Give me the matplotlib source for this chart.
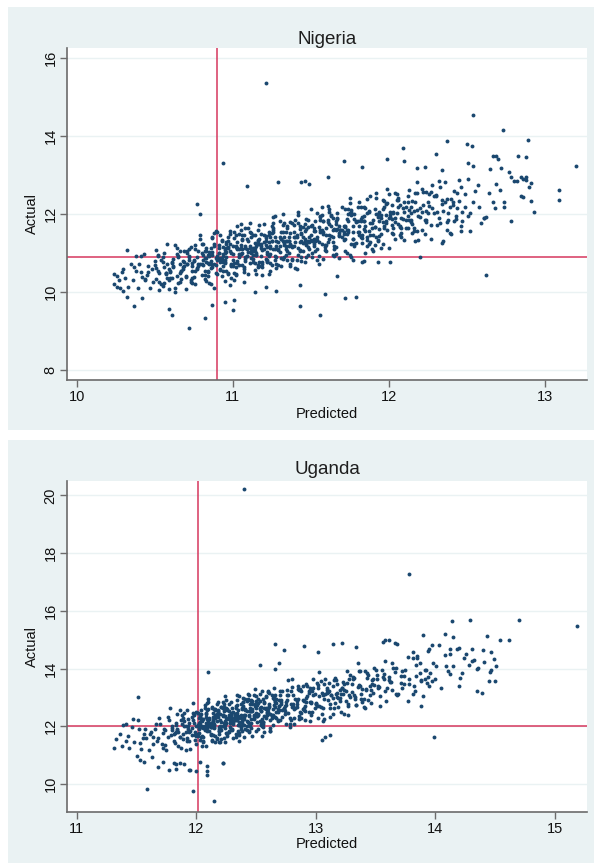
import matplotlib
matplotlib.use('Agg')  # noqa
import matplotlib.pyplot as plt
from matplotlib.patches import Rectangle

plt.rcParams['font.family'] = ['Liberation Sans', 'DejaVu Sans']

# ---- Nigeria: (predicted, actual) ----
ng_core = [
    (10.27, 10.31), (10.29, 10.52), (10.28, 10.09),
    (10.31, 10.35), (10.33, 10.14), (10.35, 10.73), (10.36, 10.30), (10.38, 10.54), (10.32, 9.87), (10.37, 10.63), (10.39, 10.10),
    (10.41, 10.51), (10.42, 10.39), (10.43, 10.97), (10.44, 10.31), (10.45, 10.44), (10.46, 10.67), (10.47, 10.11), (10.48, 10.60),
    (10.49, 10.26), (10.40, 10.72), (10.44, 10.34), (10.46, 10.51), (10.42, 9.84),
    (10.50, 10.68), (10.51, 10.34), (10.52, 10.96), (10.53, 10.50), (10.54, 10.82), (10.55, 10.16), (10.56, 10.63), (10.57, 10.45),
    (10.58, 11.24), (10.59, 10.32), (10.51, 10.61), (10.53, 10.04), (10.55, 10.89), (10.57, 10.48), (10.59, 10.60), (10.52, 10.93),
    (10.56, 10.23), (10.58, 10.71),
    (10.60, 10.52), (10.62, 10.63), (10.64, 10.41), (10.66, 11.06), (10.68, 10.59), (10.61, 10.77), (10.63, 10.11), (10.65, 10.92),
    (10.67, 10.33), (10.69, 10.77), (10.60, 10.55), (10.63, 11.20), (10.66, 10.50), (10.69, 10.66), (10.62, 10.84), (10.65, 10.24),
    (10.68, 10.80), (10.61, 10.35), (10.64, 10.97), (10.67, 10.54), (10.66, 10.71),
    (10.70, 10.07), (10.72, 10.90), (10.74, 10.55), (10.76, 11.20), (10.78, 10.73), (10.71, 10.99), (10.73, 10.31), (10.75, 10.80),
    (10.77, 10.62), (10.79, 11.46), (10.70, 10.41), (10.72, 10.82), (10.74, 10.22), (10.76, 11.10), (10.78, 10.67), (10.71, 10.71),
    (10.73, 11.15), (10.75, 10.38), (10.77, 10.89), (10.79, 10.71), (10.74, 10.75), (10.76, 10.53), (10.72, 11.10),
    (10.80, 10.71), (10.81, 10.94), (10.82, 10.34), (10.83, 11.06), (10.84, 10.52), (10.85, 10.92), (10.86, 10.80), (10.87, 11.38),
    (10.88, 10.72), (10.89, 10.86), (10.80, 10.99), (10.82, 10.44), (10.84, 10.94), (10.86, 10.61), (10.88, 11.17), (10.81, 10.68),
    (10.83, 10.86), (10.85, 10.24), (10.87, 11.03), (10.89, 10.70), (10.80, 11.22), (10.83, 10.78), (10.86, 11.12), (10.89, 10.48),
    (10.82, 10.87), (10.85, 10.71), (10.88, 11.52), (10.84, 10.55), (10.87, 10.95),
    (10.90, 10.81), (10.91, 11.01), (10.92, 10.56), (10.93, 11.31), (10.94, 10.92), (10.95, 10.83), (10.96, 11.27), (10.97, 10.45),
    (10.98, 11.05), (10.99, 10.69), (10.90, 11.53), (10.92, 10.77), (10.94, 10.98), (10.96, 10.54), (10.98, 11.23), (10.91, 10.85),
    (10.93, 11.34), (10.95, 10.75), (10.97, 11.12), (10.99, 10.37), (10.90, 10.92), (10.93, 10.79), (10.96, 11.24), (10.99, 10.73),
    (10.91, 11.00), (10.94, 10.55), (10.97, 11.15), (10.92, 10.88), (10.95, 10.78), (10.98, 11.48), (10.93, 10.86), (10.96, 11.02),
    (10.99, 10.66), (10.94, 11.16), (10.97, 10.48), (10.95, 11.07),
    (11.00, 10.98), (11.01, 11.38), (11.02, 11.15), (11.03, 11.27), (11.04, 11.10), (11.05, 11.59), (11.06, 11.01), (11.07, 10.63),
    (11.08, 10.79), (11.09, 10.93), (11.01, 10.32), (11.03, 10.80), (11.05, 10.98), (11.07, 10.60), (11.09, 10.92), (11.00, 10.66),
    (11.02, 10.44), (11.04, 10.90), (11.06, 11.47), (11.08, 11.18), (11.01, 10.75), (11.04, 10.92), (11.07, 10.52), (11.02, 10.65),
    (11.05, 10.97), (11.08, 10.89), (11.00, 11.19), (11.03, 11.12), (11.06, 11.36), (11.09, 11.11), (11.02, 11.18), (11.04, 11.49),
    (11.06, 11.33), (11.08, 11.12), (11.05, 11.74), (11.03, 11.10),
    (11.10, 10.47), (11.11, 11.19), (11.12, 11.06), (11.13, 10.84), (11.14, 11.45), (11.15, 10.95), (11.16, 11.33), (11.17, 10.77),
    (11.18, 11.23), (11.19, 11.07), (11.10, 11.65), (11.12, 10.86), (11.14, 11.25), (11.16, 10.63), (11.18, 11.14), (11.11, 10.75),
    (11.13, 11.47), (11.15, 11.01), (11.17, 11.23), (11.19, 10.43), (11.10, 11.31), (11.13, 10.95), (11.16, 11.60), (11.19, 10.76),
    (11.11, 11.13), (11.14, 11.06), (11.17, 10.67), (11.12, 11.40), (11.15, 10.94), (11.18, 11.17), (11.13, 11.04), (11.16, 11.30),
    (11.19, 10.73), (11.14, 11.14),
    (11.25, 10.68), (11.21, 11.43), (11.28, 10.89), (11.23, 11.27), (11.20, 11.10), (11.26, 11.78), (11.29, 11.08), (11.22, 11.15),
    (11.24, 11.41), (11.27, 10.81), (11.20, 11.27), (11.23, 10.92), (11.26, 11.54), (11.29, 11.11), (11.21, 11.21), (11.24, 10.53),
    (11.27, 11.41), (11.22, 10.97), (11.25, 11.68), (11.28, 11.19), (11.20, 11.45), (11.24, 10.75), (11.28, 11.30), (11.22, 11.03),
    (11.26, 11.93), (11.21, 10.85), (11.25, 11.30), (11.29, 10.69), (11.23, 11.55), (11.27, 11.11), (11.24, 11.19), (11.26, 11.65),
    (11.22, 10.80),
    (11.30, 11.19), (11.32, 10.84), (11.34, 11.09), (11.36, 11.01), (11.38, 11.19), (11.31, 10.66), (11.33, 11.25), (11.35, 11.64),
    (11.37, 11.52), (11.39, 11.42), (11.30, 11.83), (11.33, 11.42), (11.36, 11.30), (11.39, 11.71), (11.31, 11.35), (11.34, 11.53),
    (11.37, 11.79), (11.32, 11.32), (11.35, 10.83), (11.38, 11.15), (11.30, 11.42), (11.34, 11.32), (11.38, 11.77), (11.32, 11.54),
    (11.36, 11.31), (11.31, 11.37), (11.35, 11.04), (11.39, 11.17), (11.33, 10.91), (11.37, 11.23),
    (11.40, 11.29), (11.43, 11.08), (11.46, 11.74), (11.49, 11.28), (11.41, 11.45), (11.44, 10.80), (11.47, 11.62), (11.42, 10.96),
    (11.45, 11.42), (11.48, 11.31), (11.40, 11.85), (11.42, 11.14), (11.44, 11.30), (11.46, 11.56), (11.48, 10.95), (11.41, 11.41),
    (11.43, 11.05), (11.45, 11.66), (11.47, 11.22), (11.49, 11.42), (11.40, 10.62), (11.44, 11.51), (11.48, 11.16), (11.42, 11.78),
    (11.46, 11.30), (11.43, 11.61), (11.47, 10.91),
    (11.50, 11.34), (11.52, 11.57), (11.54, 11.09), (11.56, 11.92), (11.58, 11.50), (11.51, 11.32), (11.53, 11.82), (11.55, 10.92),
    (11.57, 11.59), (11.59, 11.20), (11.50, 12.14), (11.53, 11.31), (11.56, 11.55), (11.59, 11.07), (11.51, 11.73), (11.54, 11.42),
    (11.57, 11.97), (11.52, 11.24), (11.55, 11.66), (11.58, 10.84), (11.50, 11.47), (11.54, 11.33), (11.58, 11.83), (11.52, 11.18),
    (11.56, 11.60), (11.53, 11.04),
    (11.60, 11.20), (11.62, 11.37), (11.64, 10.94), (11.66, 11.15), (11.68, 11.47), (11.61, 11.28), (11.63, 11.70), (11.65, 11.62),
    (11.67, 11.86), (11.69, 11.58), (11.60, 11.64), (11.63, 11.97), (11.66, 11.81), (11.69, 11.60), (11.61, 12.20), (11.64, 11.59),
    (11.67, 11.89), (11.62, 11.46), (11.65, 11.10), (11.68, 11.44), (11.60, 11.45), (11.64, 11.90), (11.68, 11.68), (11.62, 11.74),
    (11.66, 11.60),
    (11.70, 11.58), (11.73, 11.86), (11.76, 11.24), (11.79, 11.82), (11.71, 11.34), (11.74, 11.99), (11.77, 11.53), (11.72, 11.67),
    (11.75, 10.96), (11.78, 11.88), (11.70, 11.40), (11.72, 12.12), (11.74, 11.60), (11.76, 11.97), (11.78, 11.22), (11.71, 11.68),
    (11.73, 11.48), (11.75, 12.40), (11.77, 11.35), (11.79, 11.80), (11.72, 11.05), (11.76, 12.04), (11.74, 11.53),
    (11.80, 11.83), (11.82, 12.17), (11.84, 11.62), (11.86, 11.18), (11.88, 11.45), (11.81, 11.55), (11.83, 11.26), (11.85, 11.70),
    (11.87, 11.56), (11.89, 11.09), (11.80, 11.55), (11.83, 11.45), (11.86, 11.33), (11.89, 11.76), (11.81, 12.30), (11.84, 11.83),
    (11.87, 12.04), (11.82, 11.87), (11.85, 12.16), (11.88, 11.78), (11.84, 11.96), (11.86, 11.40),
    (11.90, 11.06), (11.92, 12.01), (11.94, 11.61), (11.96, 12.36), (11.98, 11.82), (11.91, 12.12), (11.93, 11.33), (11.95, 11.91),
    (11.97, 11.70), (11.99, 12.65), (11.90, 11.45), (11.93, 11.92), (11.96, 11.24), (11.99, 12.27), (11.91, 11.67), (11.94, 11.82),
    (11.97, 12.33), (11.92, 11.40), (11.95, 11.98), (11.98, 11.78),
    (12.00, 11.89), (12.03, 11.65), (12.06, 12.37), (12.09, 11.87), (12.01, 12.05), (12.04, 11.35), (12.07, 12.23), (12.02, 11.52),
    (12.05, 12.02), (12.08, 11.89), (12.00, 12.50), (12.02, 11.71), (12.04, 11.89), (12.06, 12.17), (12.08, 11.51), (12.03, 12.04),
    (12.07, 11.66),
    (12.10, 12.32), (12.13, 11.85), (12.16, 12.07), (12.19, 11.33), (12.11, 12.18), (12.14, 11.79), (12.17, 12.55), (12.12, 11.94),
    (12.15, 12.34), (12.18, 11.56), (12.10, 12.04), (12.14, 11.85), (12.18, 12.82), (12.12, 11.65),
    (12.20, 12.16), (12.23, 11.48), (12.26, 12.51), (12.29, 12.02), (12.21, 12.06), (12.24, 12.57), (12.27, 11.72), (12.22, 12.22),
    (12.25, 12.02), (12.28, 12.15), (12.24, 11.84), (12.27, 12.56),
    (12.31, 12.05), (12.34, 12.37), (12.37, 11.60), (12.30, 12.46), (12.33, 11.77), (12.36, 12.31), (12.39, 12.17), (12.32, 12.84),
    (12.38, 12.03),
    (12.41, 12.22), (12.44, 12.54), (12.47, 11.82), (12.40, 12.38), (12.43, 11.95), (12.46, 12.69), (12.49, 12.17), (12.45, 12.34),
    (12.52, 11.57), (12.55, 12.60), (12.58, 12.17), (12.51, 12.90), (12.54, 12.31), (12.57, 12.75),
    (12.61, 11.91), (12.64, 12.53), (12.67, 12.32), (12.69, 12.78), (12.71, 12.61), (12.74, 12.32), (12.78, 12.96), (12.82, 12.84),
    (12.85, 12.47), (12.88, 12.95), (12.91, 12.80),
]
# denser part of the Nigeria cloud
ng_dense = [
    (10.51, 11.07), (10.53, 10.26), (10.55, 10.76), (10.57, 10.50), (10.59, 10.07), (10.50, 10.79), (10.52, 10.55), (10.54, 10.20),
    (10.56, 11.01), (10.58, 10.37),
    (10.61, 10.75), (10.63, 10.01), (10.65, 10.89), (10.67, 10.54), (10.69, 11.05), (10.60, 10.35), (10.62, 10.67), (10.64, 11.12),
    (10.66, 10.26), (10.68, 10.63),
    (10.71, 11.06), (10.73, 10.26), (10.75, 10.82), (10.77, 10.58), (10.79, 11.35), (10.70, 10.39), (10.72, 10.92), (10.74, 10.66),
    (10.76, 10.20), (10.78, 11.06), (10.71, 10.72), (10.74, 10.36),
    (10.81, 11.23), (10.83, 10.28), (10.85, 10.94), (10.87, 10.65), (10.89, 11.56), (10.80, 10.44), (10.82, 11.06), (10.84, 10.75),
    (10.86, 10.21), (10.88, 11.22), (10.81, 10.83), (10.84, 10.40), (10.87, 11.41), (10.82, 10.55), (10.85, 11.02), (10.88, 10.09),
    (10.83, 11.13), (10.86, 10.71),
    (10.91, 11.14), (10.93, 10.83), (10.95, 10.29), (10.97, 11.30), (10.99, 10.99), (10.90, 10.45), (10.92, 11.46), (10.94, 10.66),
    (10.96, 11.12), (10.98, 10.18), (10.91, 11.20), (10.94, 10.78), (10.97, 11.41), (10.92, 10.59), (10.95, 11.00), (10.98, 11.56),
    (10.93, 10.42), (10.96, 10.90),
    (11.01, 11.54), (11.03, 10.74), (11.05, 11.20), (11.07, 10.26), (11.09, 11.36), (11.00, 10.83), (11.02, 11.46), (11.04, 10.70),
    (11.06, 11.10), (11.08, 11.65), (11.01, 10.49), (11.04, 10.97), (11.07, 11.46), (11.02, 10.45), (11.05, 11.12), (11.08, 10.84),
    (11.03, 11.69), (11.06, 10.68),
    (11.11, 11.54), (11.13, 10.78), (11.15, 11.18), (11.17, 11.73), (11.19, 10.65), (11.10, 11.02), (11.12, 11.51), (11.14, 10.56),
    (11.16, 11.22), (11.18, 10.93), (11.11, 11.76), (11.14, 10.75), (11.17, 11.37), (11.12, 11.00), (11.15, 10.47), (11.18, 11.49),
    (11.13, 11.12), (11.16, 10.69),
    (11.21, 11.32), (11.23, 10.45), (11.25, 11.51), (11.27, 10.92), (11.29, 11.27), (11.20, 11.75), (11.22, 10.77), (11.24, 11.12),
    (11.26, 11.60), (11.28, 10.62), (11.21, 11.38), (11.24, 10.97), (11.27, 11.94), (11.22, 10.82), (11.25, 11.30), (11.28, 10.71),
    (11.23, 11.45), (11.26, 11.10),
    (11.31, 10.86), (11.33, 11.21), (11.35, 11.69), (11.37, 10.71), (11.39, 11.55), (11.30, 11.03), (11.32, 12.00), (11.34, 10.94),
    (11.36, 11.41), (11.38, 10.81), (11.31, 11.53), (11.34, 11.18), (11.37, 10.66), (11.32, 11.72), (11.35, 11.30), (11.38, 10.85),
    (11.33, 11.78), (11.36, 11.17),
    (11.41, 10.58), (11.43, 11.68), (11.45, 11.25), (11.47, 11.87), (11.49, 11.11), (11.40, 11.41), (11.42, 11.97), (11.44, 10.89),
    (11.46, 11.36), (11.48, 11.84), (11.41, 10.81), (11.44, 11.48), (11.47, 11.20), (11.42, 12.05), (11.45, 11.04), (11.48, 11.66),
    (11.43, 11.29), (11.46, 10.76),
    (11.51, 10.90), (11.53, 11.56), (11.55, 11.28), (11.57, 12.18), (11.59, 11.16), (11.50, 11.68), (11.52, 11.37), (11.54, 10.83),
    (11.56, 11.85), (11.58, 11.53), (11.51, 11.01), (11.54, 12.03), (11.57, 11.23), (11.52, 11.63), (11.55, 10.71), (11.58, 11.81),
    (11.53, 11.32), (11.56, 11.96),
    (11.61, 11.80), (11.63, 11.44), (11.65, 10.92), (11.67, 12.03), (11.69, 11.60), (11.60, 11.05), (11.62, 12.04), (11.64, 11.42),
    (11.66, 11.74), (11.68, 10.86), (11.61, 11.84), (11.64, 11.27), (11.67, 11.62), (11.62, 12.14), (11.65, 11.17), (11.68, 11.52),
    (11.63, 11.94), (11.66, 10.98),
    (11.71, 11.54), (11.73, 11.00), (11.75, 12.02), (11.77, 11.70), (11.79, 11.26), (11.70, 12.17), (11.72, 11.37), (11.74, 11.83),
    (11.76, 10.90), (11.78, 11.99), (11.71, 11.48), (11.74, 12.12), (11.77, 11.36), (11.72, 11.70), (11.75, 12.27), (11.78, 11.19),
    (11.73, 11.60), (11.76, 12.10),
    (11.81, 11.46), (11.83, 11.92), (11.85, 10.99), (11.87, 12.08), (11.89, 11.65), (11.80, 12.18), (11.82, 11.42), (11.84, 11.82),
    (11.86, 12.38), (11.88, 11.29), (11.81, 11.68), (11.84, 12.18), (11.87, 11.23), (11.82, 11.83), (11.85, 11.56), (11.88, 12.47),
    (11.83, 11.39), (11.86, 12.02),
    (11.91, 11.67), (11.93, 11.99), (11.95, 11.12), (11.97, 12.17), (11.99, 11.59), (11.90, 11.84), (11.92, 12.42), (11.94, 11.44),
    (11.96, 11.79), (11.98, 12.26), (11.91, 11.21), (11.94, 12.06), (11.97, 11.64), (11.92, 12.55), (11.95, 11.50), (11.98, 11.97),
    (11.93, 11.32), (11.96, 12.13),
    (12.01, 11.93), (12.03, 11.49), (12.05, 12.50), (12.07, 11.69), (12.09, 12.15), (12.00, 11.12), (12.02, 12.22), (12.04, 11.79),
    (12.06, 12.42), (12.08, 11.65), (12.01, 11.97), (12.04, 12.54), (12.07, 11.46), (12.02, 11.87), (12.05, 12.37), (12.08, 11.42),
    (12.03, 12.02), (12.06, 11.75),
    (12.11, 11.64), (12.13, 12.11), (12.15, 11.52), (12.17, 12.31), (12.19, 11.95), (12.10, 11.33), (12.12, 12.45), (12.14, 12.02),
    (12.16, 11.57), (12.18, 12.55), (12.11, 11.85), (12.14, 12.18), (12.17, 11.31), (12.12, 12.31), (12.15, 11.74), (12.18, 12.09),
    (12.13, 12.61), (12.16, 11.64),
    (12.21, 12.64), (12.23, 11.84), (12.25, 12.30), (12.27, 11.36), (12.29, 12.46), (12.20, 11.93), (12.22, 12.56), (12.24, 11.80),
    (12.26, 12.20), (12.28, 12.75), (12.21, 11.59), (12.24, 12.07),
    (12.31, 11.71), (12.33, 12.70), (12.35, 12.08), (12.37, 12.39), (12.39, 11.52), (12.30, 12.48), (12.32, 11.90), (12.34, 12.25),
    (12.36, 12.83), (12.38, 11.84),
    (12.41, 12.30), (12.43, 11.86), (12.45, 12.87), (12.47, 12.06), (12.49, 12.52), (12.40, 11.49), (12.42, 12.59), (12.44, 12.16),
]
ng_outliers = [
    (11.21, 15.37), (12.54, 14.55), (12.73, 14.16), (12.89, 13.89), (12.37, 13.87), (12.50, 13.80), (12.53, 13.74), (12.09, 13.70),
    (10.94, 13.32), (13.20, 13.22), (11.71, 13.36), (12.30, 13.55), (11.99, 13.41), (13.09, 12.62), (13.09, 12.35), (12.93, 12.05),
    (12.78, 11.82), (12.62, 10.44), (12.20, 10.90), (11.83, 10.77), (11.93, 10.76), (12.01, 10.76), (11.67, 10.41), (11.59, 9.95),
    (11.72, 9.85), (11.79, 9.87), (11.43, 9.65), (11.56, 9.41), (10.72, 9.08), (10.82, 9.33), (10.61, 9.42), (10.37, 9.65),
    (11.00, 9.54), (10.95, 9.75), (11.01, 9.79), (11.29, 12.82), (11.09, 12.72), (10.77, 12.25), (12.62, 11.93), (10.24, 10.46),
    (10.24, 10.20), (10.26, 10.13), (10.30, 10.03), (10.32, 11.08),
    (11.83, 13.20), (12.10, 13.36), (12.18, 13.17), (12.23, 13.20), (12.34, 13.13), (12.51, 13.30), (12.54, 13.23), (12.67, 13.49),
    (12.69, 13.49), (12.70, 13.40), (12.83, 13.49), (12.88, 13.46), (12.65, 13.15), (12.72, 13.19), (12.77, 13.07), (12.80, 12.84),
    (12.85, 12.94), (12.86, 12.91), (12.88, 12.86), (12.90, 12.70), (12.86, 12.43), (12.91, 12.33), (12.59, 11.76), (12.61, 11.89),
    (12.74, 12.19), (12.68, 12.16), (12.46, 11.57), (12.46, 11.69), (12.34, 11.25), (12.35, 11.30), (11.84, 10.80), (11.77, 10.82),
    (12.42, 11.83), (12.37, 11.80), (12.51, 11.95), (12.52, 12.02),
    (11.44, 12.81), (11.46, 12.85), (11.49, 12.76), (11.61, 12.96), (10.79, 12.00), (10.26, 10.41), (10.30, 10.59), (10.59, 9.56),
    (10.87, 9.67), (11.43, 10.17), (11.21, 10.14), (11.14, 10.01), (11.28, 10.03), (10.41, 10.92), (10.38, 10.92),
]
ng_xline = 10.9
ng_yline = 10.9
ng_xticks = [10, 11, 12, 13]
ng_yticks = [8, 10, 12, 14, 16]

# ---- Uganda: (predicted, actual) ----
ug_core = [
    (11.36, 11.74), (11.38, 11.30),
    (11.41, 11.50), (11.44, 11.24), (11.46, 11.98), (11.48, 11.44), (11.43, 11.68),
    (11.50, 10.98), (11.52, 11.89), (11.54, 11.22), (11.56, 11.73), (11.58, 11.58), (11.51, 12.23), (11.53, 11.41), (11.55, 11.59),
    (11.57, 11.89),
    (11.60, 11.19), (11.62, 11.81), (11.64, 11.39), (11.66, 12.09), (11.68, 11.58), (11.61, 11.72), (11.63, 10.93), (11.65, 11.92),
    (11.67, 11.50), (11.69, 12.28), (11.64, 11.64),
    (11.70, 12.08), (11.72, 11.26), (11.74, 11.86), (11.76, 11.64), (11.78, 12.64), (11.71, 11.40), (11.73, 11.89), (11.75, 11.17),
    (11.77, 12.23), (11.79, 11.71), (11.72, 11.77), (11.76, 12.31), (11.74, 11.36),
    (11.80, 12.00), (11.82, 11.78), (11.84, 11.90), (11.86, 11.64), (11.88, 12.38), (11.81, 11.75), (11.83, 12.05), (11.85, 11.31),
    (11.87, 12.22), (11.89, 11.55), (11.80, 11.95), (11.83, 11.81), (11.86, 12.56), (11.89, 11.75), (11.84, 11.86),
    (11.90, 12.19), (11.92, 11.49), (11.94, 12.11), (11.96, 11.69), (11.98, 12.39), (11.91, 11.79), (11.93, 12.02), (11.95, 11.23),
    (11.97, 12.22), (11.99, 11.80), (11.90, 12.47), (11.93, 11.91), (11.96, 12.33), (11.99, 11.52), (11.91, 12.02), (11.94, 11.81),
    (11.97, 12.82), (11.92, 11.60), (11.98, 12.13),
    (12.00, 11.40), (12.01, 12.45), (12.02, 11.92), (12.03, 12.06), (12.04, 12.57), (12.05, 11.65), (12.06, 12.24), (12.07, 12.01),
    (12.08, 12.12), (12.09, 11.85), (12.00, 12.48), (12.02, 11.94), (12.04, 12.24), (12.06, 11.50), (12.08, 12.41), (12.01, 11.65),
    (12.03, 12.16), (12.05, 12.01), (12.07, 12.75), (12.09, 11.93), (12.00, 12.00), (12.03, 12.31), (12.06, 11.62), (12.09, 12.25),
    (12.01, 11.73), (12.04, 12.44), (12.07, 11.94), (12.02, 12.10), (12.05, 11.32), (12.08, 12.32),
    (12.10, 12.03), (12.11, 12.28), (12.12, 11.71), (12.13, 12.65), (12.14, 12.16), (12.15, 12.04), (12.16, 12.59), (12.17, 11.56),
    (12.18, 12.31), (12.19, 11.85), (12.10, 12.93), (12.12, 11.97), (12.14, 12.23), (12.16, 11.67), (12.18, 12.53), (12.11, 12.07),
    (12.13, 12.68), (12.15, 11.94), (12.17, 12.40), (12.19, 11.45), (12.10, 12.17), (12.13, 11.99), (12.16, 12.55), (12.19, 11.90),
    (12.11, 12.26), (12.14, 11.69), (12.17, 12.44), (12.12, 12.11), (12.15, 11.98), (12.18, 12.85), (12.13, 12.08), (12.16, 12.28),
    (12.19, 11.82), (12.14, 12.46), (12.17, 11.60),
    (12.20, 12.22), (12.21, 12.67), (12.22, 12.40), (12.23, 12.54), (12.24, 12.35), (12.25, 12.91), (12.26, 12.24), (12.27, 11.81),
    (12.28, 11.98), (12.29, 12.14), (12.20, 11.45), (12.22, 12.00), (12.24, 12.19), (12.26, 11.76), (12.28, 12.12), (12.21, 11.86),
    (12.23, 11.61), (12.25, 12.13), (12.27, 12.78), (12.29, 12.45), (12.20, 11.94), (12.23, 12.13), (12.26, 11.68), (12.29, 11.91),
    (12.21, 12.15), (12.24, 12.06), (12.27, 12.53), (12.22, 12.36), (12.25, 12.63), (12.28, 12.34), (12.20, 12.42), (12.23, 12.77),
    (12.26, 12.60), (12.29, 12.37), (12.24, 13.06), (12.27, 12.39), (12.22, 12.64),
    (12.30, 12.63), (12.31, 12.15), (12.32, 12.33), (12.33, 11.62), (12.34, 12.47), (12.35, 12.32), (12.36, 12.05), (12.37, 12.78),
    (12.38, 12.19), (12.39, 12.64), (12.30, 11.87), (12.32, 12.42), (12.34, 12.23), (12.36, 13.06), (12.38, 12.11), (12.31, 12.48),
    (12.33, 11.74), (12.35, 12.35), (12.37, 11.98), (12.39, 12.84), (12.30, 12.17), (12.33, 12.44), (12.36, 11.49), (12.39, 12.69),
    (12.31, 12.14), (12.34, 12.91), (12.37, 11.90), (12.32, 12.39), (12.35, 12.29), (12.38, 11.82), (12.33, 12.70), (12.36, 12.15),
    (12.34, 12.37), (12.37, 12.30), (12.35, 12.56),
    (12.40, 11.63), (12.41, 12.61), (12.42, 12.18), (12.43, 12.95), (12.44, 12.37), (12.45, 12.77), (12.46, 11.94), (12.47, 12.53),
    (12.48, 12.30), (12.49, 13.29), (12.40, 12.03), (12.42, 12.52), (12.44, 11.80), (12.46, 12.86), (12.48, 12.34), (12.41, 12.40),
    (12.43, 12.92), (12.45, 12.01), (12.47, 12.61), (12.49, 12.39), (12.40, 12.40), (12.43, 12.15), (12.46, 12.90), (12.49, 12.37),
    (12.41, 12.57), (12.44, 11.84), (12.47, 12.76), (12.42, 12.02), (12.45, 12.54), (12.48, 12.40), (12.44, 13.08), (12.46, 12.26),
    (12.50, 12.45), (12.53, 12.20), (12.56, 12.95), (12.59, 12.38), (12.51, 12.74), (12.54, 12.09), (12.57, 12.65), (12.52, 12.39),
    (12.55, 13.23), (12.58, 12.29), (12.50, 12.65), (12.52, 11.91), (12.54, 12.52), (12.56, 12.15), (12.58, 13.01), (12.51, 12.36),
    (12.53, 12.62), (12.55, 11.66), (12.57, 12.85), (12.59, 12.40), (12.50, 13.05), (12.54, 12.05), (12.58, 12.63), (12.52, 12.44),
    (12.56, 11.98), (12.53, 12.88), (12.57, 12.34),
    (12.60, 12.59), (12.63, 12.34), (12.66, 13.09), (12.69, 12.56), (12.61, 12.76), (12.64, 12.03), (12.67, 12.95), (12.62, 12.21),
    (12.65, 12.73), (12.68, 12.59), (12.60, 13.23), (12.62, 12.41), (12.64, 12.59), (12.66, 12.89), (12.68, 12.19), (12.61, 12.72),
    (12.63, 12.30), (12.65, 13.00), (12.67, 12.49), (12.69, 12.72), (12.62, 11.84), (12.66, 12.85), (12.64, 12.39),
    (12.70, 13.23), (12.73, 12.64), (12.76, 13.08), (12.79, 12.23), (12.71, 12.76), (12.74, 12.53), (12.77, 13.59), (12.72, 12.31),
    (12.75, 12.84), (12.78, 12.09), (12.70, 13.10), (12.72, 12.55), (12.74, 12.71), (12.76, 13.26), (12.78, 12.30), (12.71, 12.84),
    (12.73, 12.61), (12.75, 12.73), (12.77, 12.46), (12.79, 13.23),
    (12.80, 12.66), (12.83, 12.96), (12.86, 12.35), (12.89, 13.40), (12.81, 12.77), (12.84, 12.66), (12.87, 13.28), (12.82, 12.09),
    (12.85, 12.93), (12.88, 12.45), (12.80, 13.65), (12.82, 12.60), (12.84, 12.88), (12.86, 12.26), (12.88, 13.21), (12.81, 12.71),
    (12.85, 13.40), (12.89, 12.60),
    (12.90, 12.56), (12.93, 13.38), (12.96, 12.79), (12.99, 13.13), (12.91, 12.21), (12.94, 13.22), (12.97, 12.49), (12.92, 12.98),
    (12.95, 12.83), (12.98, 13.65), (12.90, 12.64), (12.92, 12.84), (12.94, 13.17), (12.96, 12.40), (12.98, 13.08), (12.91, 12.52),
    (12.95, 13.31),
    (13.00, 12.78), (13.03, 13.04), (13.06, 12.18), (13.09, 13.27), (13.01, 12.71), (13.04, 13.58), (13.07, 12.96), (13.02, 13.34),
    (13.05, 12.44), (13.08, 13.11), (13.00, 12.77), (13.03, 13.87), (13.06, 12.62), (13.09, 13.16), (13.02, 12.28), (13.07, 13.47),
    (13.10, 12.91), (13.13, 13.08), (13.16, 13.66), (13.19, 12.67), (13.11, 13.23), (13.14, 12.99), (13.17, 13.13), (13.12, 12.78),
    (13.15, 13.60), (13.18, 13.01), (13.10, 13.24), (13.14, 12.44), (13.18, 13.46), (13.12, 12.64),
    (13.20, 13.26), (13.23, 13.11), (13.26, 13.93), (13.29, 13.03), (13.21, 13.13), (13.24, 13.47), (13.27, 12.71), (13.22, 13.32),
    (13.25, 12.86), (13.28, 13.64), (13.20, 12.98), (13.24, 13.25), (13.27, 12.39),
    (13.30, 13.48), (13.33, 13.03), (13.36, 13.90), (13.39, 13.28), (13.31, 13.63), (13.34, 12.73), (13.37, 13.40), (13.32, 13.09),
    (13.35, 14.19), (13.38, 12.94), (13.36, 13.43),
    (13.40, 12.66), (13.43, 13.83), (13.46, 13.27), (13.49, 13.44), (13.41, 13.91), (13.44, 12.92), (13.47, 13.59), (13.42, 13.27),
    (13.45, 13.41), (13.48, 13.14),
    (13.50, 13.95), (13.53, 13.36), (13.56, 13.70), (13.59, 12.89), (13.51, 13.79), (13.54, 13.06), (13.57, 13.63), (13.52, 13.40),
    (13.58, 14.25),
    (13.60, 13.34), (13.63, 13.55), (13.66, 13.89), (13.69, 13.13), (13.61, 13.71), (13.64, 13.25), (13.67, 14.03),
    (13.71, 13.49), (13.74, 13.75), (13.77, 12.89), (13.72, 13.90), (13.78, 13.48),
    (13.81, 14.35), (13.84, 13.73), (13.87, 14.19), (13.83, 13.22),
    (13.91, 13.94), (13.94, 13.71), (13.97, 14.81), (13.93, 13.49),
    (14.01, 14.08), (14.05, 13.31), (14.08, 14.48), (14.11, 13.92), (14.15, 14.10), (14.18, 14.68),
    (14.21, 13.69), (14.24, 14.36), (14.28, 14.13), (14.32, 14.28), (14.36, 14.02), (14.41, 14.23), (14.47, 14.59),
]
# denser part of the Uganda cloud
ug_dense = [
    (11.81, 11.50), (11.83, 12.12), (11.85, 11.81), (11.87, 11.26), (11.89, 12.28), (11.80, 11.87), (11.82, 11.43), (11.84, 12.44),
    (11.86, 11.64), (11.88, 12.09),
    (11.91, 11.17), (11.93, 12.27), (11.95, 11.84), (11.97, 12.46), (11.99, 11.70), (11.90, 12.00), (11.92, 12.56), (11.94, 11.48),
    (11.96, 11.95), (11.98, 12.43),
    (12.01, 12.46), (12.03, 11.51), (12.05, 12.17), (12.07, 11.88), (12.09, 12.79), (12.00, 11.67), (12.02, 12.29), (12.04, 11.98),
    (12.06, 11.44), (12.08, 12.45), (12.01, 12.06), (12.04, 11.63), (12.07, 12.64), (12.02, 11.78), (12.05, 12.25), (12.08, 11.32),
    (12.03, 12.36), (12.06, 11.94), (12.09, 12.57), (12.00, 11.71),
    (12.11, 12.01), (12.13, 11.49), (12.15, 12.61), (12.17, 12.17), (12.19, 11.72), (12.10, 12.61), (12.12, 11.99), (12.14, 12.31),
    (12.16, 11.44), (12.18, 12.49), (12.11, 11.83), (12.14, 12.19), (12.17, 12.77), (12.12, 11.73), (12.15, 12.09), (12.18, 12.57),
    (12.13, 11.54), (12.16, 12.39), (12.19, 11.97), (12.10, 12.84),
    (12.21, 11.57), (12.23, 12.59), (12.25, 12.28), (12.27, 11.83), (12.29, 12.84), (12.20, 11.94), (12.22, 12.40), (12.24, 11.47),
    (12.26, 12.57), (12.28, 12.13), (12.21, 12.68), (12.24, 11.93), (12.27, 12.33), (12.22, 12.83), (12.25, 11.76), (12.28, 12.23),
    (12.23, 12.66), (12.26, 11.72), (12.29, 12.38), (12.20, 12.00),
    (12.31, 11.58), (12.33, 12.64), (12.35, 12.06), (12.37, 12.40), (12.39, 12.98), (12.30, 11.90), (12.32, 12.25), (12.34, 12.73),
    (12.36, 11.76), (12.38, 12.59), (12.31, 12.09), (12.34, 13.07), (12.37, 12.01), (12.32, 12.42), (12.35, 11.84), (12.38, 12.64),
    (12.33, 12.22), (12.36, 11.71), (12.39, 12.83), (12.30, 12.30),
    (12.41, 12.96), (12.43, 12.16), (12.45, 12.62), (12.47, 11.68), (12.49, 12.78), (12.40, 12.25), (12.42, 12.88), (12.44, 12.12),
    (12.46, 12.52), (12.48, 13.07), (12.41, 11.91), (12.44, 12.39), (12.47, 12.88), (12.42, 11.87), (12.45, 12.54), (12.48, 12.26),
    (12.43, 13.11), (12.46, 12.10), (12.49, 12.72), (12.40, 12.31),
    (12.51, 12.14), (12.53, 12.61), (12.55, 12.02), (12.57, 12.81), (12.59, 12.45), (12.50, 11.83), (12.52, 12.95), (12.54, 12.52),
    (12.56, 12.07), (12.58, 13.05), (12.51, 12.35), (12.54, 12.68), (12.57, 11.81), (12.52, 12.81), (12.55, 12.24), (12.58, 12.59),
    (12.53, 13.11), (12.56, 12.14), (12.59, 12.49), (12.50, 12.87),
    (12.61, 12.68), (12.63, 12.40), (12.65, 13.31), (12.67, 12.28), (12.69, 12.90), (12.60, 12.49), (12.62, 11.95), (12.64, 12.97),
    (12.66, 12.66), (12.68, 12.21), (12.61, 13.14), (12.64, 12.35), (12.67, 12.81), (12.62, 11.82), (12.65, 12.93), (12.68, 12.50),
    (12.63, 13.07), (12.66, 12.32), (12.69, 12.72), (12.60, 13.18),
    (12.71, 12.92), (12.73, 12.61), (12.75, 12.07), (12.77, 13.08), (12.79, 12.77), (12.70, 12.23), (12.72, 13.24), (12.74, 12.44),
    (12.76, 12.90), (12.78, 11.96),
    (12.81, 13.08), (12.83, 12.65), (12.85, 13.28), (12.87, 12.51), (12.89, 12.91), (12.80, 13.37), (12.82, 12.29), (12.84, 12.76),
    (12.86, 13.25), (12.88, 12.29),
    (12.91, 12.72), (12.93, 13.04), (12.95, 12.17), (12.97, 13.22), (12.99, 12.64), (12.90, 12.89), (12.92, 13.47), (12.94, 12.49),
    (12.96, 12.84), (12.98, 13.31),
    (13.01, 13.51), (13.03, 12.71), (13.05, 13.17), (13.07, 12.24), (13.09, 13.34), (13.00, 12.80), (13.02, 13.43), (13.04, 12.67),
    (13.06, 13.07), (13.08, 13.63),
    (13.11, 13.50), (13.13, 13.07), (13.15, 12.62), (13.17, 13.61), (13.19, 12.99), (13.10, 13.20), (13.12, 12.33), (13.14, 13.39),
    (13.16, 12.81), (13.18, 13.16),
    (13.21, 12.51), (13.23, 13.53), (13.25, 13.22), (13.27, 12.78), (13.29, 13.79), (13.20, 12.88), (13.22, 13.34), (13.24, 12.41),
    (13.26, 13.51), (13.28, 13.08),
    (13.31, 13.72), (13.33, 12.96), (13.35, 13.36), (13.37, 13.92), (13.39, 12.84), (13.30, 13.20), (13.32, 13.69), (13.34, 12.74),
    (13.36, 13.40), (13.38, 13.12),
    (13.41, 12.62), (13.43, 13.68), (13.45, 13.10), (13.47, 13.45), (13.49, 14.03), (13.40, 12.94), (13.42, 13.29), (13.44, 13.77),
    (13.46, 12.80), (13.48, 13.64),
    (13.51, 13.63), (13.54, 12.71), (13.57, 13.82), (13.52, 13.32), (13.55, 13.96), (13.58, 13.21),
    (13.61, 13.62), (13.64, 14.19), (13.67, 13.12), (13.62, 13.52), (13.65, 14.02), (13.68, 13.08),
    (13.71, 13.75), (13.74, 13.48), (13.77, 14.40), (13.72, 13.31), (13.75, 13.94), (13.78, 13.64),
    (13.81, 13.11), (13.84, 14.14), (13.87, 13.84), (13.82, 13.41), (13.85, 14.35), (13.88, 13.56),
    (13.91, 13.63), (13.94, 14.61), (13.97, 13.56), (13.92, 13.96), (13.95, 13.38), (13.98, 14.19),
]
ug_outliers = [
    (12.40, 20.22), (13.78, 17.29), (15.19, 15.49), (14.70, 15.68), (14.54, 15.00), (14.29, 15.68), (14.14, 15.66), (14.43, 15.14),
    (14.08, 15.20), (13.90, 15.16), (13.99, 11.62), (13.14, 14.86), (12.90, 14.77), (12.66, 14.86), (12.73, 14.63), (12.53, 14.11),
    (12.10, 13.89), (13.58, 15.00), (13.66, 14.88), (11.51, 13.00), (11.59, 9.84), (11.97, 9.75), (12.15, 9.40), (14.35, 13.21),
    (14.39, 13.15), (14.20, 13.41), (14.50, 13.56), (14.46, 13.89), (14.51, 14.08), (13.88, 12.69), (13.90, 13.04), (11.77, 10.50),
    (11.83, 10.69), (11.90, 10.69), (11.94, 10.50), (12.00, 10.44), (12.09, 10.44), (12.09, 10.32), (12.22, 10.73), (11.31, 11.25),
    (11.33, 11.56), (11.39, 12.06), (11.41, 12.09), (13.05, 11.52), (13.08, 11.64), (13.12, 11.69),
    (14.15, 15.08), (14.62, 15.00), (14.03, 14.83), (14.12, 14.67), (14.12, 14.50), (14.20, 14.73), (14.26, 14.50), (14.31, 14.67),
    (14.40, 14.64), (14.49, 14.32), (14.47, 13.95), (14.45, 13.56), (13.81, 14.58), (13.85, 14.43), (13.95, 14.67), (14.22, 13.83),
    (14.12, 13.80), (14.09, 14.09), (14.00, 13.65), (13.96, 13.83), (14.35, 13.97), (14.31, 14.26), (13.56, 14.93), (13.61, 14.99),
    (13.68, 14.86), (13.34, 14.76), (13.02, 14.58), (13.22, 14.87), (12.66, 13.98), (12.69, 14.18), (11.47, 12.24), (11.53, 10.83),
    (11.56, 10.77), (11.68, 10.60), (11.72, 10.77), (11.81, 10.72), (11.83, 10.51), (11.86, 10.72), (11.95, 10.49), (12.03, 10.77),
    (12.09, 10.62), (12.22, 10.72), (13.88, 13.60),
]
ug_xline = 12.01
ug_yline = 12.0
ug_xticks = [11, 12, 13, 14, 15]
ug_yticks = [10, 12, 14, 16, 18, 20]

BG = '#eaf2f3'
NAVY = '#1a476f'
RED = '#d6375e'
AXC = '#6b6b6b'

W, H = 594, 866
fig = plt.figure(figsize=(W / 100, H / 100), dpi=100)
fig.patch.set_facecolor('white')

# light outer panels behind each graph
for top, bot in ((7, 430), (440, 863)):
    fig.add_artist(Rectangle((8 / W, 1 - bot / H), (W - 8) / W, (bot - top) / H,
                             transform=fig.transFigure, facecolor=BG,
                             edgecolor='none', zorder=-5))


def draw_panel(box, title, groups, xlim, ylim, xticks, yticks,
               xline, yline, title_pad, xlab_pad):
    left, top, right, bottom = box
    ax = fig.add_axes([left / W, 1 - bottom / H, (right - left) / W, (bottom - top) / H])
    ax.set_facecolor('white')
    ax.axvline(xline, color=RED, lw=1.1, zorder=1)
    ax.axhline(yline, color=RED, lw=1.1, zorder=1)
    for pts in groups:
        xs = [p[0] for p in pts]
        ys = [p[1] for p in pts]
        ax.plot(xs, ys, 'o', ms=2.8, mew=0, color=NAVY, zorder=3)
    ax.set_xlim(xlim)
    ax.set_ylim(ylim)
    ax.set_xticks(xticks)
    ax.set_yticks(yticks)
    ax.grid(axis='y', color=BG, lw=1.0)
    ax.set_axisbelow(True)
    ax.spines['top'].set_visible(False)
    ax.spines['right'].set_visible(False)
    for s in ('left', 'bottom'):
        ax.spines[s].set_color(AXC)
        ax.spines[s].set_linewidth(1.2)
    ax.tick_params(colors=AXC, labelcolor='#111111', length=5, width=1.0,
                   labelsize=10.5, pad=2)
    ax.tick_params(axis='y', labelrotation=90)
    for lab in ax.get_yticklabels():
        lab.set_va('center')
    ax.set_xlabel('Predicted', fontsize=10.5, color='#111111', labelpad=xlab_pad)
    ax.set_ylabel('Actual', fontsize=10.5, color='#111111', labelpad=3)
    ax.set_title(title, fontsize=13.5, color='#1e1e1e', pad=title_pad)
    return ax


draw_panel((67.3, 48, 587, 380), 'Nigeria', (ng_core, ng_dense, ng_outliers),
           (9.94, 13.27), (7.744, 16.256), ng_xticks, ng_yticks,
           ng_xline, ng_yline, 3, 2)
draw_panel((67.3, 481, 587, 812), 'Uganda', (ug_core, ug_dense, ug_outliers),
           (10.92, 15.27), (9.03, 20.5), ug_xticks, ug_yticks,
           ug_xline, ug_yline, 5, 1)

fig.savefig('out.png', dpi=100, facecolor='white')
